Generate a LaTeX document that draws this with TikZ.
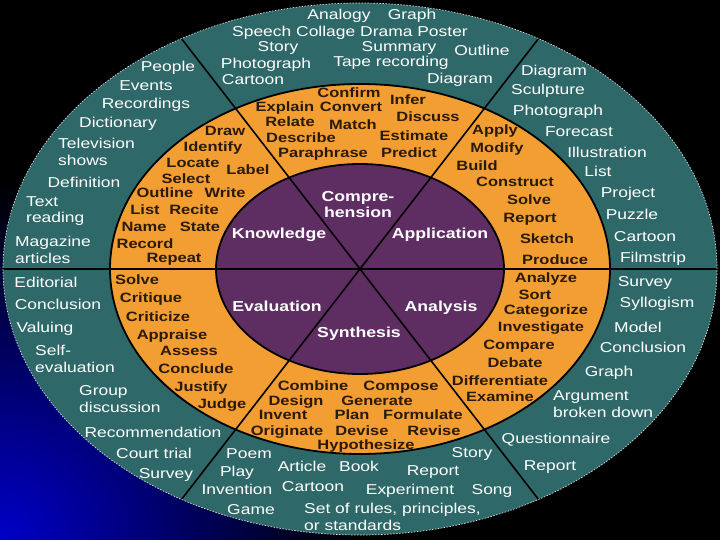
\documentclass[tikz,border=0pt]{standalone}
\usepackage{fontspec}
\setmainfont{Liberation Sans}[FakeStretch=1.22]
\definecolor{tealring}{RGB}{46,104,104}
\definecolor{orangering}{RGB}{243,158,50}
\definecolor{purplecore}{RGB}{94,46,98}
\definecolor{otext}{RGB}{42,26,8}
\definecolor{bgblue}{RGB}{0,0,200}
\tikzset{
  tl/.style={text=white, font=\fontsize{14.3}{16.5}\selectfont, inner sep=0pt, text height=9pt, text depth=0pt},
  tlw/.style={text=white, font=\fontsize{14.3}{16.5}\selectfont, inner sep=0pt, align=left, anchor=west},
  ol/.style={text=otext, font=\bfseries\fontsize{13.5}{16}\selectfont, inner sep=0pt, text height=9pt, text depth=0pt},
  pl/.style={text=white, font=\bfseries\fontsize{14.5}{16}\selectfont, inner sep=0pt, text height=9pt, text depth=0pt},
  plm/.style={text=white, font=\bfseries\fontsize{14.5}{16}\selectfont, inner sep=0pt, align=center},
  ringline/.style={draw=black, line width=1.8pt},
  divider/.style={draw=black, line width=1.6pt},
}
\begin{document}
\begin{tikzpicture}[x=1pt,y=-1pt]
\useasboundingbox (0,0) rectangle (720,540);
% background
\begin{scope}
  \clip (0,0) rectangle (720,540);
  \fill[black] (0,0) rectangle (720,540);
  \shade[inner color=bgblue, outer color=black] (0,540) circle (360pt);
\end{scope}
\coordinate (C) at (360,269);
% rings
\path[fill=tealring] (C) ellipse [x radius=357pt, y radius=266pt];
\path[fill=orangering, ringline] (C) ellipse [x radius=250pt, y radius=185pt];
\path[fill=purplecore, ringline] (C) ellipse [x radius=144pt, y radius=105pt];
% divider end points on the outer edge
\coordinate (E0) at (717,269);
\coordinate (E180) at (3,269);
\coordinate (E60) at (538.5,38.6);
\coordinate (E120) at (181.5,38.6);
\coordinate (E240) at (181.5,499.4);
\coordinate (E300) at (538.5,499.4);
\draw[divider] (E180) -- (E0);
\draw[divider] (E120) -- (E300);
\draw[divider] (E60) -- (E240);
\draw[draw=white!85!black, line width=0.7pt, dash pattern=on 1.5pt off 1.5pt] (C) ellipse [x radius=357pt, y radius=266pt];

% ---- outer ring, top (Comprehension)
\node[tl] (ta1) at (339,15) {Analogy};
\node[tl] (ta2) at (412,15) {Graph};
\node[tl] (ta3) at (350,32) {Speech Collage Drama Poster};
\node[tl] (ta4) at (278,47) {Story};
\node[tl] (ta5) at (399,47) {Summary};
\node[tl] (ta6) at (482,51) {Outline};
\node[tl] (ta7) at (266,64) {Photograph};
\node[tl] (ta8) at (391,62) {Tape recording};
\node[tl] (ta9) at (253,80) {Cartoon};
\node[tl] (ta10) at (460,79) {Diagram};
% ---- outer ring, Knowledge
\node[tl] (tk1) at (168,67) {People};
\node[tl] (tk2) at (146,86) {Events};
\node[tl] (tk3) at (146,104) {Recordings};
\node[tl] (tk4) at (118,123) {Dictionary};
\node[tlw] (tk5) at (58,152) {Television\\shows};
\node[tl] (tk6) at (84,183) {Definition};
\node[tlw] (tk7) at (26,211) {Text\\reading};
\node[tlw] (tk8) at (15,250) {Magazine\\articles};
% ---- outer ring, Application
\node[tl] (tp1) at (554,71) {Diagram};
\node[tl] (tp2) at (548,90) {Sculpture};
\node[tl] (tp3) at (558,111) {Photograph};
\node[tl] (tp4) at (579,132) {Forecast};
\node[tl] (tp5) at (607,153) {Illustration};
\node[tl] (tp6) at (598,172) {List};
\node[tl] (tp7) at (628,193) {Project};
\node[tl] (tp8) at (632,215) {Puzzle};
\node[tl] (tp9) at (645,237) {Cartoon};
\node[tl] (tp10) at (653,258) {Filmstrip};
% ---- outer ring, Evaluation
\node[tl] (te1) at (46,283) {Editorial};
\node[tl] (te2) at (58,305) {Conclusion};
\node[tl] (te3) at (45,328) {Valuing};
\node[tlw] (te4) at (35,359) {Self-\\evaluation};
\node[tlw] (te5) at (79,399) {Group\\discussion};
\node[tl] (te6) at (153,433) {Recommendation};
\node[tl] (te7) at (154,454) {Court trial};
\node[tl] (te8) at (166,474) {Survey};
% ---- outer ring, Synthesis
\node[tl] (ts1) at (249,454) {Poem};
\node[tl] (ts2) at (237,472) {Play};
\node[tl] (ts3) at (237,490) {Invention};
\node[tl] (ts4) at (251,510) {Game};
\node[tl] (ts5) at (302,467) {Article};
\node[tl] (ts6) at (359,467) {Book};
\node[tl] (ts7) at (313,487) {Cartoon};
\node[tlw] (ts8) at (304,517) {Set of rules, principles,\\or standards};
\node[tl] (ts9) at (472,453) {Story};
\node[tl] (ts10) at (433,471) {Report};
\node[tl] (ts11) at (410,490) {Experiment};
\node[tl] (ts12) at (492,490) {Song};
% ---- outer ring, Analysis
\node[tl] (tn1) at (645,282) {Survey};
\node[tl] (tn2) at (657,303) {Syllogism};
\node[tl] (tn3) at (638,328) {Model};
\node[tl] (tn4) at (643,348) {Conclusion};
\node[tl] (tn5) at (609,372) {Graph};
\node[tlw] (tn6) at (553,404) {Argument\\broken down};
\node[tl] (tn7) at (556,439) {Questionnaire};
\node[tl] (tn8) at (550,466) {Report};

% ---- middle ring, Knowledge
\node[ol] (ok1) at (225,131) {Draw};
\node[ol] (ok2) at (213,147) {Identify};
\node[ol] (ok3) at (193,163) {Locate};
\node[ol] (ok4) at (248,170) {Label};
\node[ol] (ok5) at (186,179) {Select};
\node[ol] (ok6) at (165,193) {Outline};
\node[ol] (ok7) at (225,193) {Write};
\node[ol] (ok8) at (145,210) {List};
\node[ol] (ok9) at (194,210) {Recite};
\node[ol] (ok10) at (144,227) {Name};
\node[ol] (ok11) at (200,227) {State};
\node[ol] (ok12) at (145,244) {Record};
\node[ol] (ok13) at (174,258) {Repeat};
% ---- middle ring, Comprehension
\node[ol] (oc1) at (349,93) {Confirm};
\node[ol] (oc2) at (408,100) {Infer};
\node[ol] (oc3) at (285,107) {Explain};
\node[ol] (oc4) at (351,107) {Convert};
\node[ol] (oc5) at (290,122) {Relate};
\node[ol] (oc6) at (353,125) {Match};
\node[ol] (oc7) at (428,117) {Discuss};
\node[ol] (oc8) at (301,138) {Describe};
\node[ol] (oc9) at (414,136) {Estimate};
\node[ol] (oc10) at (323,153) {Paraphrase};
\node[ol] (oc11) at (409,153) {Predict};
% ---- middle ring, Application
\node[ol] (oa1) at (495,130) {Apply};
\node[ol] (oa2) at (497,148) {Modify};
\node[ol] (oa3) at (477,166) {Build};
\node[ol] (oa4) at (515,182) {Construct};
\node[ol] (oa5) at (529,200) {Solve};
\node[ol] (oa6) at (530,218) {Report};
\node[ol] (oa7) at (547,239) {Sketch};
\node[ol] (oa8) at (555,260) {Produce};
% ---- middle ring, Evaluation
\node[ol] (ov1) at (137,280) {Solve};
\node[ol] (ov2) at (151,298) {Critique};
\node[ol] (ov3) at (158,317) {Criticize};
\node[ol] (ov4) at (172,335) {Appraise};
\node[ol] (ov5) at (189,351) {Assess};
\node[ol] (ov6) at (196,369) {Conclude};
\node[ol] (ov7) at (201,387) {Justify};
\node[ol] (ov8) at (222,404) {Judge};
% ---- middle ring, Synthesis
\node[ol] (os1) at (313,386) {Combine};
\node[ol] (os2) at (401,386) {Compose};
\node[ol] (os3) at (296,401) {Design};
\node[ol] (os4) at (377,401) {Generate};
\node[ol] (os5) at (283,415) {Invent};
\node[ol] (os6) at (352,415) {Plan};
\node[ol] (os7) at (423,415) {Formulate};
\node[ol] (os8) at (287,431) {Originate};
\node[ol] (os9) at (362,431) {Devise};
\node[ol] (os10) at (434,431) {Revise};
\node[ol] (os11) at (366,445) {Hypothesize};
% ---- middle ring, Analysis
\node[ol] (on1) at (546,278) {Analyze};
\node[ol] (on2) at (535,295) {Sort};
\node[ol] (on3) at (546,310) {Categorize};
\node[ol] (on4) at (541,327) {Investigate};
\node[ol] (on5) at (519,345) {Compare};
\node[ol] (on6) at (515,363) {Debate};
\node[ol] (on7) at (500,381) {Differentiate};
\node[ol] (on8) at (500,397) {Examine};

% ---- core
\node[plm] (p1) at (358,205) {Compre-\\hension};
\node[pl] (p2) at (279,234) {Knowledge};
\node[pl] (p3) at (440,234) {Application};
\node[pl] (p4) at (277,307) {Evaluation};
\node[pl] (p5) at (359,333) {Synthesis};
\node[pl] (p6) at (441,307) {Analysis};
\end{tikzpicture}
\end{document}
